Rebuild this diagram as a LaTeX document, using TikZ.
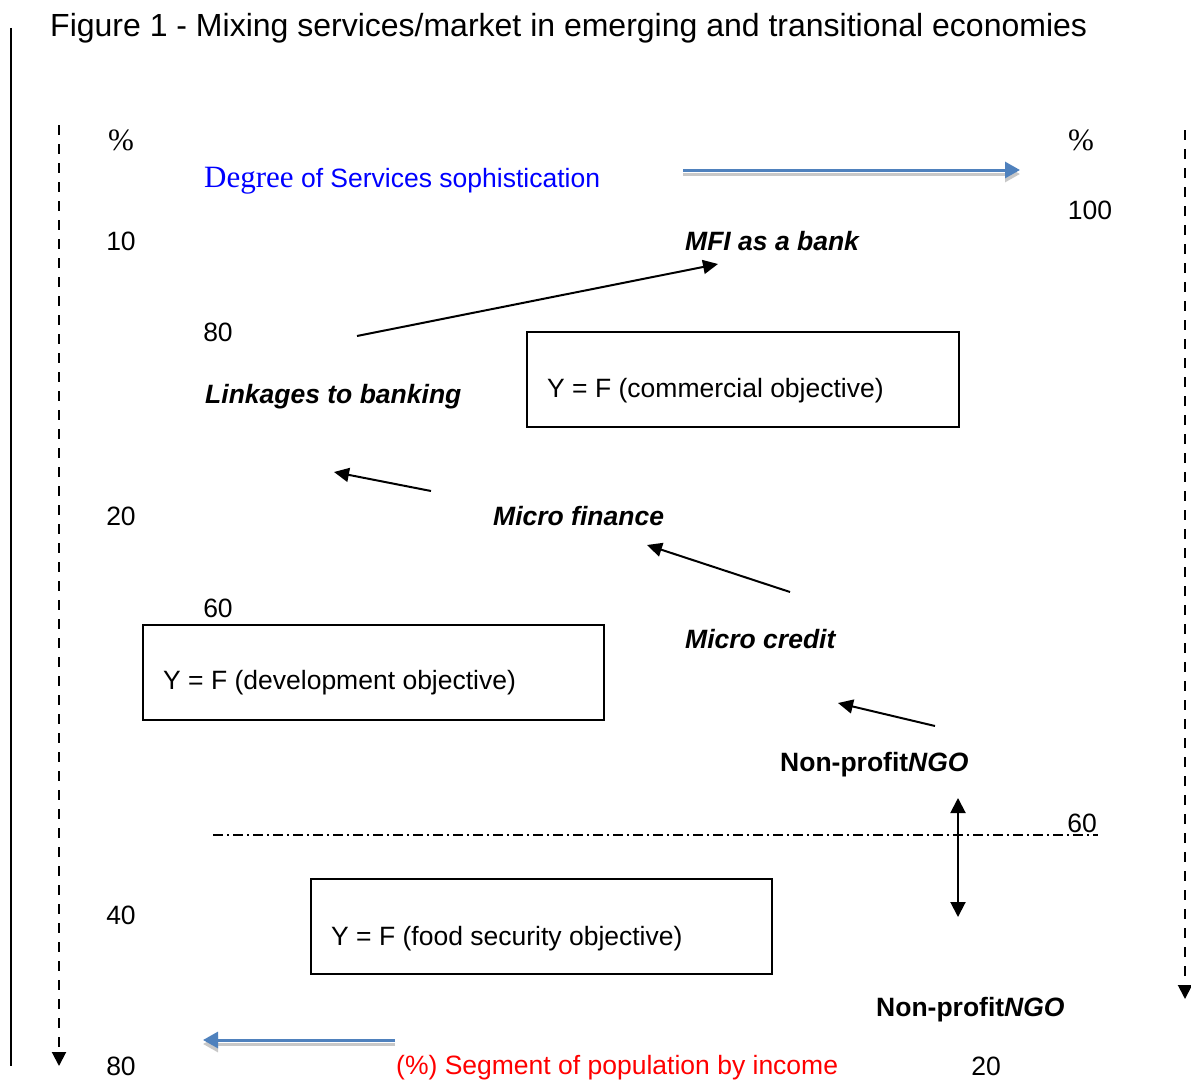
\documentclass[tikz,border=0pt]{standalone}
\usepackage{fontspec}
\setmainfont{Liberation Sans}
\newfontfamily\degreefont{Liberation Serif}
\usetikzlibrary{arrows.meta,positioning,calc}
\definecolor{arrowblue}{RGB}{79,129,189}
\definecolor{shadowgrey}{RGB}{200,200,200}
\definecolor{textred}{RGB}{255,0,0}
\tikzset{
  lbl/.style={inner sep=0pt, font=\fontsize{26.5}{30}\selectfont},
  lblw/.style={lbl, anchor=west},
  pct/.style={inner sep=0pt, font=\degreefont\fontsize{31}{34}\selectfont},
  stage/.style={lblw, font=\fontsize{26.5}{30}\selectfont\bfseries\itshape},
  objbox/.style={draw=black, line width=1.5pt, inner sep=0pt, anchor=north west},
  arrow/.style={-{Triangle[length=15pt,width=14pt]}, line width=2pt},
  dblarrow/.style={{Triangle[length=15pt,width=15pt]}-{Triangle[length=15pt,width=15pt]}, line width=2pt},
  dashedarrow/.style={-{Triangle[length=14pt,width=14pt]}, line width=2pt, dash pattern=on 10pt off 9pt},
  bluearrow/.style={-{Triangle[length=15pt,width=16pt]}, line width=3pt, draw=arrowblue},
  shadowarrow/.style={-{Triangle[length=15pt,width=16pt]}, line width=3pt, draw=shadowgrey},
  dashdot/.style={line width=1.5pt, dash pattern=on 10pt off 4pt on 2pt off 4pt}
}
\begin{document}
\begin{tikzpicture}[x=1pt, y=-1pt]
\useasboundingbox (0,0) rectangle (1191,1081);
% title and frame line
\node[anchor=base west, inner sep=0pt, font=\fontsize{32}{36}\selectfont] (title) at (50,37) {Figure 1 - Mixing services/market in emerging and transitional economies};
\coordinate (frametop) at (11,28);
\coordinate (framebot) at (11,1066);
\draw[line width=2pt] (frametop) -- (framebot);
% side axes
\coordinate (ltop) at (59,125);
\coordinate (lbot) at (59,1066);
\coordinate (rtop) at (1185,130);
\coordinate (rbot) at (1185,999);
\draw[dashedarrow] (ltop) -- (lbot);
\draw[dashedarrow] (rtop) -- (rbot);
% scale numbers
\node[pct] (pl) at (121,140) {\%};
\node[pct] (pr) at (1081,140) {\%};
\node[lbl] (n100) at (1090,210) {100};
\node[lbl] (n10) at (121,241) {10};
\node[lbl] (n80a) at (218,332) {80};
\node[lbl] (n20a) at (121,516) {20};
\node[lbl] (n60a) at (218,608) {60};
\node[lbl] (n60b) at (1082,823) {60};
\node[lbl] (n40) at (121,915) {40};
\node[lbl] (n80b) at (121,1066) {80};
\node[lbl] (n20b) at (986,1066) {20};
% axis captions
\node[lblw, text=blue] (degree) at (204,181) {{\degreefont\fontsize{31}{34}\selectfont Degree} of Services sophistication};
\coordinate (btop1) at (683,170);
\coordinate (btop2) at (1020,170);
\draw[shadowarrow] ([yshift=-4pt]btop1) -- ([yshift=-4pt]btop2);
\draw[bluearrow] (btop1) -- (btop2);
\node[lblw, text=textred] (segment) at (396,1068) {(\%) Segment of population by income};
\coordinate (bbot1) at (395,1040);
\coordinate (bbot2) at (203,1040);
\draw[shadowarrow] ([yshift=-4pt]bbot1) -- ([yshift=-4pt]bbot2);
\draw[bluearrow] (bbot1) -- (bbot2);
% stages
\node[stage] (mfi) at (685,241) {MFI as a bank};
\node[stage] (linkage) at (205,397) {Linkages to banking};
\node[stage] (mfin) at (493,516) {Micro finance};
\node[stage] (mcred) at (685,639) {Micro credit};
\node[lblw, font=\fontsize{26.5}{30}\selectfont\bfseries] (ngo1) at (780,765) {Non-profit\textit{NGO}};
\node[lblw, font=\fontsize{26.5}{30}\selectfont\bfseries] (ngo2) at (876,1010) {Non-profit\textit{NGO}};
% objective boxes
\node[objbox, minimum width=432pt, minimum height=95pt] (commbox) at (526,331) {};
\node[lblw] (commtxt) at (547,391) {Y = F (commercial objective)};
\node[objbox, minimum width=461pt, minimum height=95pt] (devbox) at (142,624) {};
\node[lblw] (devtxt) at (163,683) {Y = F (development objective)};
\node[objbox, minimum width=461pt, minimum height=95pt] (foodbox) at (310,878) {};
\node[lblw] (foodtxt) at (331,939) {Y = F (food security objective)};
% progression arrows
\coordinate (a1s) at (357,336); \coordinate (a1e) at (718,264);
\coordinate (a2s) at (431,491); \coordinate (a2e) at (334,472);
\coordinate (a3s) at (790,592); \coordinate (a3e) at (647,545);
\coordinate (a4s) at (935,726); \coordinate (a4e) at (838,703);
\draw[arrow] (a1s) -- (a1e);
\draw[arrow] (a2s) -- (a2e);
\draw[arrow] (a3s) -- (a3e);
\draw[arrow] (a4s) -- (a4e);
% threshold line
\coordinate (dl) at (213,835);
\coordinate (dr) at (1098,835);
\draw[dashdot] (dl) -- (dr);
\coordinate (vt) at (958,798);
\coordinate (vb) at (958,917);
\draw[dblarrow] (vt) -- (vb);
\end{tikzpicture}
\end{document}
